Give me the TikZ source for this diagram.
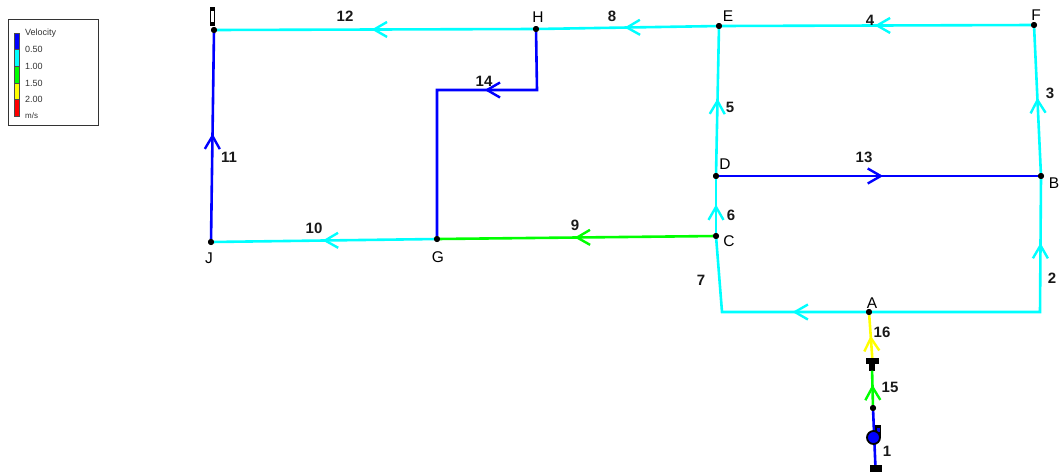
\documentclass[tikz,border=0pt]{standalone}
\usepackage{fontspec}
\setmainfont{Liberation Sans}
\usetikzlibrary{decorations.markings}
\definecolor{vblue}{RGB}{0,0,255}
\definecolor{vcyan}{RGB}{0,255,255}
\definecolor{vgreen}{RGB}{0,255,0}
\definecolor{vyellow}{RGB}{255,255,0}
\definecolor{vred}{RGB}{255,0,0}
\tikzset{
  pipe/.style={line width=2.6pt,line join=miter},
  flowat/.style={postaction={decorate},decoration={markings,mark=at position #1 with {\draw[line width=2.4pt,line join=miter] (-13,7.5) -- (0,0) -- (-13,-7.5);}}},
  junction/.style={circle,fill=black,inner sep=0pt,minimum size=6pt},
  lab/.style={font=\bfseries\fontsize{15}{16}\selectfont,text=black!90,inner sep=0pt},
  nlab/.style={font=\fontsize{15.5}{16}\selectfont,text=black,inner sep=0pt},
  legtext/.style={font=\fontsize{9}{10}\selectfont,text=black!80,anchor=west,inner sep=0pt},
  legbar/.style={draw=black!70,line width=0.5pt,minimum width=5.5pt,minimum height=16.6pt,inner sep=0pt},
  solid/.style={fill=black,inner sep=0pt},
}
\begin{document}
\begin{tikzpicture}[x=1pt,y=-1pt]
\useasboundingbox (0,0) rectangle (1060,472);
% legend
\node[draw=black!80,line width=0.7pt,minimum width=90pt,minimum height=106pt,inner sep=0pt] (legend) at (53,72) {};
\node[legbar,fill=vblue] (b1) at (16.5,41.5) {};
\node[legbar,fill=vcyan] (b2) at (16.5,58) {};
\node[legbar,fill=vgreen] (b3) at (16.5,74.6) {};
\node[legbar,fill=vyellow] (b4) at (16.5,91.2) {};
\node[legbar,fill=vred] (b5) at (16.5,107.8) {};
\node[legtext] (t0) at (25,33) {Velocity};
\node[legtext] (t1) at (25,49.5) {0.50};
\node[legtext] (t2) at (25,66) {1.00};
\node[legtext] (t3) at (25,83) {1.50};
\node[legtext] (t4) at (25,99.5) {2.00};
\node[legtext,font=\fontsize{8}{9}\selectfont] (t5) at (25,116) {m/s};
% junctions
\node[junction] (I) at (214,30) {};
\node[junction] (H) at (536,29) {};
\node[junction] (E) at (719,26) {};
\node[junction] (F) at (1034,25) {};
\node[junction] (B) at (1041,176) {};
\node[junction] (D) at (716,176) {};
\node[junction] (C) at (716,236) {};
\node[junction] (G) at (437,239) {};
\node[junction] (J) at (211,242) {};
\node[junction] (A) at (869,312) {};
\node[junction] (P) at (873,408) {};
\coordinate (c1) at (722,312);
\coordinate (c2) at (1040,312);
\coordinate (c3) at (537,90);
\coordinate (c4) at (437,90);
% tank, valve, reservoir
\node[solid,minimum width=5.5pt,minimum height=19pt] (tank) at (212.5,16.5) {};
\node[fill=white,inner sep=0pt,minimum width=2.2pt,minimum height=11pt] (tankin) at (212.5,16.5) {};
\node[solid,minimum width=13pt,minimum height=6pt] (V) at (872.5,361) {};
\node[solid,minimum width=6pt,minimum height=7pt] (Vb) at (872,367) {};
\node[solid,minimum width=12pt,minimum height=7pt] (R) at (875.5,468.5) {};
% pipes
\draw[pipe,vcyan,flowat=.503] (H) -- (I);
\draw[pipe,vcyan,flowat=.503] (E) -- (H);
\draw[pipe,vcyan,flowat=.498] (F) -- (E);
\draw[pipe,vcyan,flowat=.503] (B) -- (F);
\draw[pipe,vcyan,flowat=.5] (D) -- (E);
\draw[pipe,vcyan,flowat=.483] (C) -- (D);
\draw[pipe,vblue,flowat=.507] (D) -- (B);
\draw[pipe,vgreen,flowat=.498] (C) -- (G);
\draw[pipe,vcyan,flowat=.495] (G) -- (J);
\draw[pipe,vblue,flowat=.5] (J) -- (I);
\draw[pipe,vblue,flowat=.355] (H) -- (c3) -- (c4) -- (G);
\draw[pipe,vcyan,flowat=.327] (A) -- (c1) -- (C);
\draw[pipe,vcyan,flowat=.78] (A) -- (c2) -- (B);
\draw[pipe,vyellow,flowat=.465] (V) -- (A);
\draw[pipe,vgreen,flowat=.52] (P) -- (Vb);
\draw[pipe,vblue] (R) -- (P);
% junction dots and pump over the pipes
\foreach \n in {I,H,E,F,B,D,C,G,J,A,P} \fill[black] (\n) circle (3pt);
\node[solid,minimum width=6.5pt,minimum height=12pt] (PUb) at (878,431) {};
\fill[vblue] (877,428) rectangle (880,432);
\node[circle,draw=black,fill=vblue,line width=1.8pt,minimum size=13pt,inner sep=0pt] (PU) at (873.5,437.5) {};
% node labels
\node[nlab] (lH) at (538,17) {H};
\node[nlab] (lE) at (728,16) {E};
\node[nlab] (lF) at (1036,15) {F};
\node[nlab] (lB) at (1054,183) {B};
\node[nlab] (lD) at (725,164) {D};
\node[nlab] (lC) at (729,241) {C};
\node[nlab] (lG) at (438,257) {G};
\node[nlab] (lJ) at (209,258) {J};
\node[nlab] (lA) at (872,303) {A};
% pipe labels
\node[lab] at (345,16) {12};
\node[lab] at (612,16) {8};
\node[lab] at (870,20) {4};
\node[lab] at (1050,93) {3};
\node[lab] at (730,107) {5};
\node[lab] at (864,157) {13};
\node[lab] at (731,215) {6};
\node[lab] at (575,225) {9};
\node[lab] at (314,228) {10};
\node[lab] at (229,157) {11};
\node[lab] at (484,81) {14};
\node[lab] at (701,280) {7};
\node[lab] at (1052,278) {2};
\node[lab] at (882,332) {16};
\node[lab] at (890,387) {15};
\node[lab] at (887,451) {1};
\end{tikzpicture}
\end{document}
